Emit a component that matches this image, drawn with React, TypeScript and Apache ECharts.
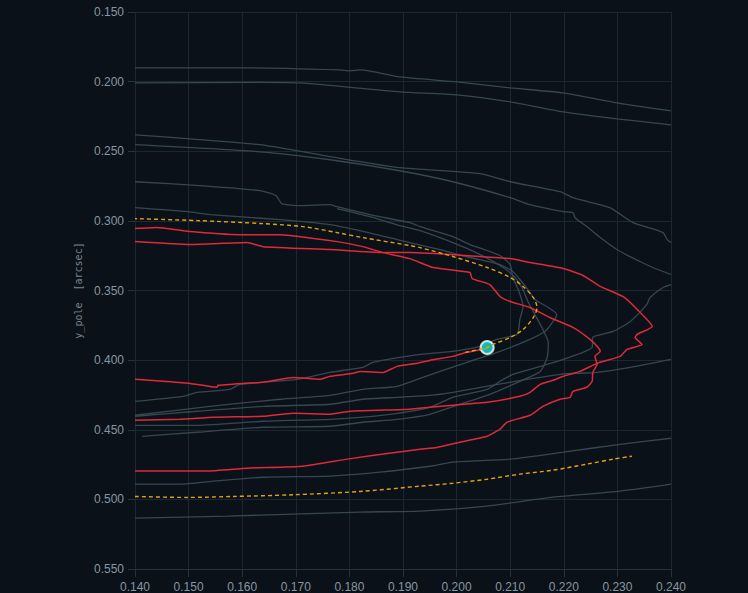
import React, { useEffect, useRef } from "react";
import * as echarts from "echarts";

// x_pole / y_pole [arcsec] tracks
const xTicks = [0.14, 0.15, 0.16, 0.17, 0.18, 0.19, 0.2, 0.21, 0.22, 0.23, 0.24];
const yTicks = [0.15, 0.2, 0.25, 0.3, 0.35, 0.4, 0.45, 0.5, 0.55];

const grayA = [[0.1400,0.1901],[0.1615,0.1901],[0.1782,0.1916],[0.1801,0.1923],[0.1820,0.1916],[0.1894,0.1966],[0.2001,0.2002],[0.2100,0.2045],[0.2199,0.2081],[0.2299,0.2152],[0.2400,0.2210]];
const grayB = [[0.1400,0.2009],[0.1633,0.2005],[0.1708,0.2009],[0.1894,0.2073],[0.2001,0.2095],[0.2100,0.2145],[0.2199,0.2217],[0.2299,0.2267],[0.2400,0.2310]];
const grayC = [[0.1400,0.2382],[0.1633,0.2453],[0.1764,0.2539],[0.1894,0.2618],[0.2044,0.2661],[0.2100,0.2719],[0.2193,0.2790],[0.2217,0.2833],[0.2286,0.2905],[0.2301,0.2941],[0.2329,0.3013],[0.2385,0.3084],[0.2393,0.3134],[0.2400,0.3156]];
const grayD = [[0.1400,0.2453],[0.1633,0.2504],[0.1764,0.2561],[0.1894,0.2640],[0.1993,0.2719],[0.2100,0.2833],[0.2137,0.2884],[0.2199,0.2934],[0.2217,0.2941],[0.2221,0.2977],[0.2243,0.3041],[0.2268,0.3120],[0.2299,0.3206],[0.2342,0.3292],[0.2366,0.3335],[0.2400,0.3385]];
const grayE = [[0.1400,0.4296],[0.1490,0.4260],[0.1516,0.4231],[0.1577,0.4210],[0.1596,0.4174],[0.1702,0.4138],[0.1764,0.4088],[0.1825,0.4052],[0.1844,0.4016],[0.1932,0.3959],[0.1993,0.3937],[0.2044,0.3901],[0.2075,0.3851],[0.2113,0.3815],[0.2118,0.3708],[0.2124,0.3615],[0.2115,0.3493],[0.2105,0.3407],[0.2100,0.3314],[0.2081,0.3249],[0.2062,0.3220],[0.2025,0.3170],[0.1993,0.3113],[0.1932,0.3041],[0.1913,0.3013],[0.1838,0.2955],[0.1777,0.2898],[0.1764,0.2884],[0.1708,0.2891],[0.1674,0.2876],[0.1663,0.2819],[0.1633,0.2783],[0.1521,0.2747],[0.1400,0.2719]];
const grayF = [[0.1400,0.4396],[0.1540,0.4332],[0.1671,0.4281],[0.1764,0.4253],[0.1825,0.4210],[0.1889,0.4188],[0.1937,0.4124],[0.1969,0.4081],[0.2025,0.4009],[0.2081,0.3937],[0.2128,0.3866],[0.2165,0.3794],[0.2180,0.3722],[0.2187,0.3672],[0.2171,0.3622],[0.2146,0.3565],[0.2133,0.3493],[0.2118,0.3421],[0.2105,0.3364],[0.2081,0.3314],[0.2025,0.3263],[0.1969,0.3206],[0.1913,0.3156],[0.1889,0.3134],[0.1825,0.3075],[0.1764,0.3027],[0.1671,0.2991],[0.1540,0.2955],[0.1499,0.2934],[0.1400,0.2905]];
const grayH = [[0.1413,0.4547],[0.1516,0.4518],[0.1639,0.4482],[0.1764,0.4475],[0.1825,0.4446],[0.1889,0.4425],[0.1950,0.4389],[0.2006,0.4317],[0.2062,0.4246],[0.2118,0.4152],[0.2156,0.4081],[0.2169,0.3980],[0.2171,0.3873],[0.2161,0.3780],[0.2146,0.3672],[0.2133,0.3579],[0.2122,0.3478],[0.2109,0.3407],[0.2087,0.3335],[0.2044,0.3242],[0.1993,0.3156],[0.1932,0.3070],[0.1894,0.3034],[0.1838,0.2970],[0.1777,0.2912]];
const grayI = [[0.1400,0.4403],[0.1516,0.4367],[0.1639,0.4332],[0.1764,0.4317],[0.1825,0.4281],[0.1889,0.4267],[0.1950,0.4253],[0.1993,0.4231],[0.2087,0.4167],[0.2193,0.4102],[0.2262,0.4088],[0.2324,0.4052],[0.2400,0.3995]];
const grayJ = [[0.1400,0.4468],[0.1516,0.4468],[0.1639,0.4439],[0.1764,0.4425],[0.1825,0.4410],[0.1889,0.4382],[0.1950,0.4339],[0.1993,0.4267],[0.2057,0.4210],[0.2081,0.4152],[0.2105,0.4102],[0.2150,0.4052],[0.2199,0.3995],[0.2253,0.3908],[0.2254,0.3837],[0.2292,0.3794],[0.2324,0.3722],[0.2355,0.3600],[0.2361,0.3550],[0.2385,0.3478],[0.2400,0.3457]];
const grayK = [[0.1400,0.4891],[0.1484,0.4891],[0.1546,0.4869],[0.1639,0.4841],[0.1764,0.4833],[0.1857,0.4805],[0.1950,0.4762],[0.1993,0.4733],[0.2100,0.4711],[0.2199,0.4661],[0.2305,0.4605],[0.2400,0.4561]];
const grayL = [[0.1400,0.5134],[0.1572,0.5120],[0.1695,0.5106],[0.1820,0.5091],[0.1932,0.5084],[0.2057,0.5048],[0.2180,0.4984],[0.2305,0.4941],[0.2400,0.4891]];

const red1 = [[0.1400,0.3054],[0.1441,0.3047],[0.1497,0.3075],[0.1596,0.3099],[0.1671,0.3099],[0.1777,0.3149],[0.1825,0.3185],[0.1863,0.3228],[0.1913,0.3271],[0.1956,0.3335],[0.2025,0.3371],[0.2029,0.3414],[0.2062,0.3457],[0.2081,0.3543],[0.2100,0.3579],[0.2137,0.3622],[0.2174,0.3694],[0.2217,0.3765],[0.2249,0.3851],[0.2262,0.3901],[0.2268,0.3937],[0.2258,0.3973],[0.2262,0.4030],[0.2254,0.4088],[0.2253,0.4152],[0.2243,0.4195],[0.2217,0.4224],[0.2212,0.4267],[0.2193,0.4281],[0.2161,0.4332],[0.2137,0.4396],[0.2094,0.4446],[0.2081,0.4496],[0.2057,0.4547],[0.2006,0.4590],[0.1963,0.4627],[0.1932,0.4640],[0.1889,0.4661],[0.1796,0.4711],[0.1713,0.4762],[0.1609,0.4776],[0.1534,0.4797],[0.1400,0.4797]];
const red2 = [[0.1400,0.3149],[0.1503,0.3170],[0.1609,0.3156],[0.1639,0.3185],[0.1764,0.3206],[0.1863,0.3228],[0.1913,0.3228],[0.2100,0.3271],[0.2137,0.3299],[0.2199,0.3342],[0.2236,0.3392],[0.2268,0.3471],[0.2310,0.3543],[0.2337,0.3636],[0.2365,0.3758],[0.2337,0.3815],[0.2333,0.3837],[0.2346,0.3887],[0.2318,0.3923],[0.2305,0.3973],[0.2262,0.4023],[0.2230,0.4081],[0.2199,0.4116],[0.2180,0.4145],[0.2156,0.4174],[0.2137,0.4231],[0.2118,0.4260],[0.2057,0.4303],[0.1993,0.4324],[0.1950,0.4339],[0.1913,0.4353],[0.1801,0.4367],[0.1764,0.4389],[0.1695,0.4382],[0.1639,0.4403],[0.1546,0.4410],[0.1484,0.4425],[0.1400,0.4432]];
const red3 = [[0.1400,0.4138],[0.1452,0.4152],[0.1503,0.4167],[0.1553,0.4195],[0.1555,0.4181],[0.1601,0.4167],[0.1639,0.4159],[0.1695,0.4124],[0.1745,0.4138],[0.1764,0.4116],[0.1807,0.4095],[0.1820,0.4081],[0.1863,0.4088],[0.1889,0.4045],[0.1926,0.4023],[0.1950,0.4002],[0.1993,0.3973],[0.2019,0.3944],[0.2057,0.3916]];

const forecastUpper = [[0.2016,0.3944],[0.2057,0.3909],[0.2068,0.3887],[0.2100,0.3837],[0.2124,0.3780],[0.2143,0.3694],[0.2150,0.3622],[0.2143,0.3550],[0.2124,0.3471],[0.2100,0.3407],[0.2057,0.3335],[0.1993,0.3256],[0.1932,0.3192],[0.1913,0.3177],[0.1825,0.3120],[0.1777,0.3084],[0.1713,0.3041],[0.1639,0.3020],[0.1516,0.2998],[0.1400,0.2984]];
const forecastLower = [[0.1400,0.4979],[0.1497,0.4986],[0.1583,0.4979],[0.1695,0.4967],[0.1820,0.4943],[0.1932,0.4905],[0.1993,0.4884],[0.2057,0.4855],[0.2118,0.4819],[0.2180,0.4790],[0.2243,0.4747],[0.2292,0.4711],[0.2327,0.4690]];

const currentPole = [[0.2057, 0.3909]];

const grayTracks = [grayA, grayB, grayC, grayD, grayE, grayF, grayH, grayI, grayJ, grayK, grayL];
const redTracks = [red1, red2, red3];

export default function App() {
  const ref = useRef<HTMLDivElement>(null);
  useEffect(() => {
    document.body.style.margin = "0";
    document.body.style.overflow = "hidden";
    document.body.style.background = "#0b1118";
    if (!ref.current) return;
    const chart = echarts.init(ref.current, null, { renderer: "svg" });
    const series: any[] = [];
    grayTracks.forEach((d) =>
      series.push({
        type: "line",
        data: d,
        symbol: "none",
        smooth: 0.2,
        lineStyle: { color: "#374752", width: 1.3 },
        z: 2,
      })
    );
    redTracks.forEach((d) =>
      series.push({
        type: "line",
        data: d,
        symbol: "none",
        smooth: 0.15,
        lineStyle: { color: "#e0293a", width: 1.5 },
        z: 3,
      })
    );
    series.push({
      type: "scatter",
      data: currentPole,
      symbol: "circle",
      symbolSize: 13,
      itemStyle: { color: "#19e0d2", borderColor: "#ffffff", borderWidth: 2 },
      z: 4,
    });
    [forecastUpper, forecastLower].forEach((d) =>
      series.push({
        type: "line",
        data: d,
        symbol: "none",
        smooth: 0.3,
        lineStyle: { color: "#e8a013", width: 1.4, type: [4, 3] },
        z: 5,
      })
    );
    const lbl = { color: "#8696a1", fontSize: 12, fontFamily: "sans-serif" };
    chart.setOption({
      animation: false,
      backgroundColor: "#0b1118",
      grid: { left: 135, right: 77, top: 12, bottom: 23, containLabel: false },
      xAxis: {
        type: "value",
        min: xTicks[0],
        max: xTicks[xTicks.length - 1],
        interval: 0.01,
        axisLine: { show: true, lineStyle: { color: "#26333c" } },
        axisTick: { show: true, length: 8, lineStyle: { color: "#26333c" } },
        axisLabel: { ...lbl, margin: 12, formatter: (v: number) => v.toFixed(3) },
        splitLine: { show: true, lineStyle: { color: "#1c2830", width: 1 } },
      },
      yAxis: {
        type: "value",
        inverse: true,
        min: yTicks[0],
        max: yTicks[yTicks.length - 1],
        interval: 0.05,
        name: "y_pole  [arcsec]",
        nameLocation: "middle",
        nameGap: 52,
        nameTextStyle: { color: "#76858f", fontSize: 10, fontFamily: "DejaVu Sans Mono, monospace" },
        axisLine: { show: false },
        axisTick: { show: true, length: 7, lineStyle: { color: "#26333c" } },
        axisLabel: { ...lbl, margin: 11, formatter: (v: number) => v.toFixed(3) },
        splitLine: { show: true, lineStyle: { color: "#1c2830", width: 1 } },
      },
      series,
    });
    return () => chart.dispose();
  }, []);
  return <div ref={ref} style={{ width: 748, height: 593 }} />;
}
